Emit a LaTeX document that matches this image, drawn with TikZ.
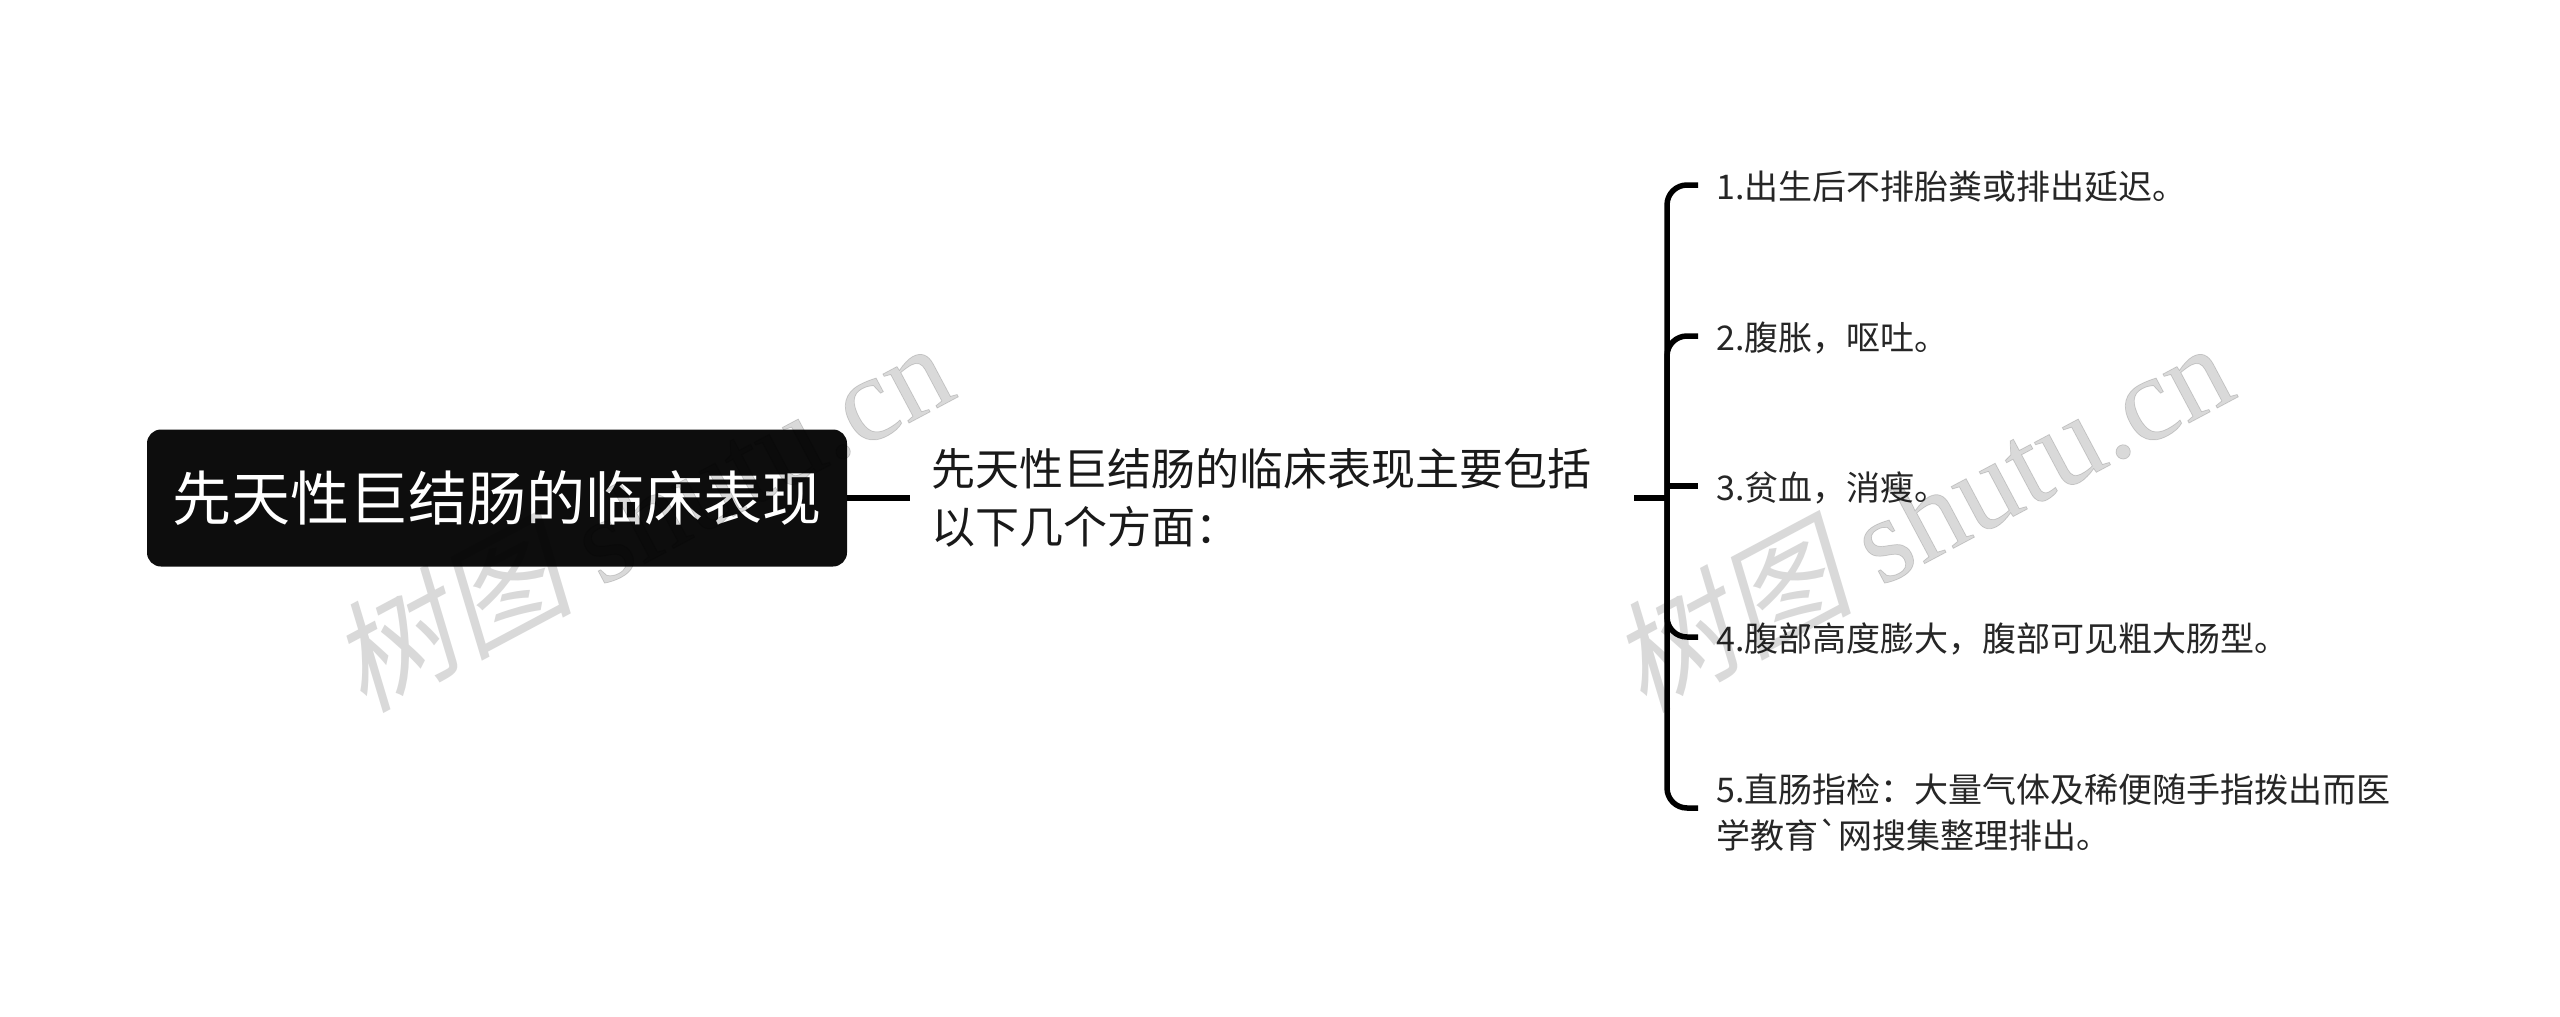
\documentclass[tikz,border=0pt]{standalone}
\usepackage{fontspec}
\setmainfont{Noto Sans CJK SC}
\newfontfamily\gravefont{Noto Sans CJK SC}
\newfontfamily\wmcjk[FakeSlant=0.2]{Noto Sans CJK SC}
\newfontfamily\wmlat[FakeBold=0.6]{Liberation Serif}
\usetikzlibrary{calc}
\tikzset{
 x=1pt,y=-1pt,
 conn/.style={draw=black,line width=5.5pt,rounded corners=20pt},
 rootbox/.style={fill=black!95,draw=none,rounded corners=14pt,text=white,font=\fontsize{59}{68}\selectfont,minimum width=700pt,minimum height=137pt,inner sep=0pt,align=center},
 midtext/.style={text=black!90,font=\fontsize{44}{58}\selectfont,text width=682pt,inner xsep=21pt,inner ysep=0pt,align=left,anchor=west},
 leaf/.style={text=black!85,font=\fontsize{34}{46}\selectfont,inner xsep=18pt,inner ysep=0pt,align=left,anchor=west},
 wm/.style={text=black!15,rotate=28,inner sep=0pt,blend mode=multiply,font=\fontsize{121}{121}\selectfont},
}
\begin{document}
\begin{tikzpicture}
\useasboundingbox (0,0) rectangle (2560,1017);
\fill[white] (0,0) rectangle (2560,1017);
\node[rootbox] (root) at (497,498) {先天性巨结肠的临床表现};
\node[midtext] (mid) at (910,498) {先天性巨结肠的临床表现主要包括\\以下几个方面：};
\node[leaf] (t1) at (1698,187) {1.出生后不排胎粪或排出延迟。};
\node[leaf] (t2) at (1698,338) {2.腹胀，呕吐。};
\node[leaf] (t3) at (1698,488) {3.贫血，消瘦。};
\node[leaf] (t4) at (1698,639) {4.腹部高度膨大，腹部可见粗大肠型。};
\node[leaf,text width=690pt] (t5) at (1698,813) {5.直肠指检：大量气体及稀便随手指拨出而医\\学教育{\gravefont`}网搜集整理排出。};
\coordinate (hub) at (1667,498);
\coordinate (b1) at (1698,185);
\coordinate (b2) at (1698,336);
\coordinate (b3) at (1698,486);
\coordinate (b4) at (1698,637);
\coordinate (b5) at (1698,808);
\draw[conn] (root.east) -- (mid.west);
\draw[conn,rounded corners=0pt] (mid.east) -- (hub);
\draw[conn] (hub) |- (b1);
\draw[conn] (hub) |- (b2);
\draw[conn,rounded corners=0pt] (hub |- b3) -- (b3);
\draw[conn] (hub) |- (b4);
\draw[conn] (hub) |- (b5);
\node[wm] (wa) at (640,514) {\wmcjk 树图\ \wmlat shutu.cn};
\node[wm] (wb) at (1920,514) {\wmcjk 树图\ \wmlat shutu.cn};
\end{tikzpicture}
\end{document}
